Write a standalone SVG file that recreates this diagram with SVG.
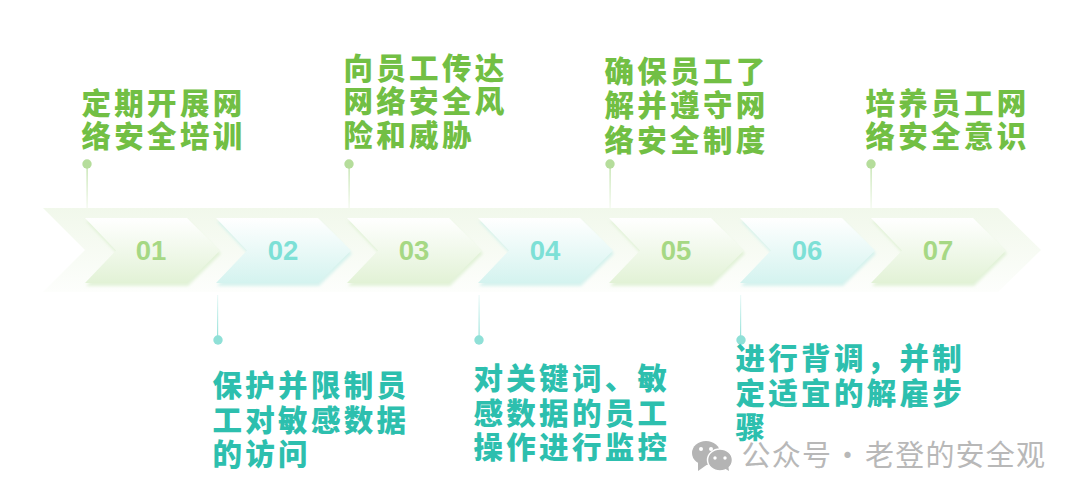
<svg xmlns="http://www.w3.org/2000/svg" width="1080" height="498" viewBox="0 0 1080 498">
<style>
.t{font-family:"Noto Sans CJK SC",sans-serif;font-weight:900;font-size:29.500px;letter-spacing:3.300px}
.g{fill:#72bf44}.b{fill:#2dbfae}
.n{font-family:"Liberation Sans",Arial,sans-serif;font-weight:700;font-size:27.500px;text-anchor:middle}
.ng{fill:#a6d884}.nb{fill:#7de0d6}
.cg{fill:url(#cg);filter:url(#sg)}.cb{fill:url(#cb);filter:url(#sb)}
.w{font-family:"Noto Sans CJK SC",sans-serif;font-size:29px;fill:#b8b8b8;letter-spacing:1.200px}
</style>
<defs>
<linearGradient id="band" x1="0" y1="0" x2="0" y2="1"><stop offset="0" stop-color="#f1f8eb"/><stop offset="1" stop-color="#fdfefc"/></linearGradient>
<linearGradient id="cg" x1="0" y1="0" x2="0" y2="1"><stop offset="0" stop-color="#fff"/><stop offset="1" stop-color="#e2f2d6"/></linearGradient>
<linearGradient id="cb" x1="0" y1="0" x2="0" y2="1"><stop offset="0" stop-color="#fff"/><stop offset="1" stop-color="#d4f3ef"/></linearGradient>
<linearGradient id="pu" x1="0" y1="0" x2="0" y2="1"><stop offset="0" stop-color="#b5dd9b"/><stop offset="1" stop-color="#f3f9ee"/></linearGradient>
<linearGradient id="pd" x1="0" y1="1" x2="0" y2="0"><stop offset="0" stop-color="#8fe0d7"/><stop offset="1" stop-color="#eefaf9"/></linearGradient>
<filter id="sg" x="-10%" y="-10%" width="120%" height="125%"><feDropShadow dx="1" dy="3" stdDeviation="1.800" flood-color="#d8eecb" flood-opacity=".7"/></filter>
<filter id="sb" x="-10%" y="-10%" width="120%" height="125%"><feDropShadow dx="1" dy="3" stdDeviation="1.800" flood-color="#c8eeea" flood-opacity=".7"/></filter>
<path id="c" d="M85 218H187L220 250.500L187 283H85L116 250.500Z"/>
</defs>
<rect width="1080" height="498" fill="#fff"/>
<polygon id="band-shape" points="43,208 998,208 1041,250 998,292 43,292 85,250" fill="url(#band)"/>
<g id="connectors">
<rect x="86.500" y="164" width="1.200" height="44" fill="url(#pu)"/>
<rect x="348.500" y="164" width="1.200" height="44" fill="url(#pu)"/>
<rect x="609.500" y="164" width="1.200" height="44" fill="url(#pu)"/>
<rect x="870.500" y="164" width="1.200" height="44" fill="url(#pu)"/>
<rect x="217" y="295" width="1.200" height="45" fill="url(#pd)"/>
<rect x="478.500" y="295" width="1.200" height="45" fill="url(#pd)"/>
<rect x="740" y="295" width="1.200" height="45" fill="url(#pd)"/>
</g>
<g id="node1"><use href="#c" class="cg"/><text class="n ng" x="151" y="260">01</text><circle cx="87" cy="164" r="4.700" fill="#b5dd9b"/>
<text class="t g"><tspan x="81.500" y="114">定期开展网</tspan><tspan x="81.500" y="147">络安全培训</tspan></text></g>
<g id="node2"><use href="#c" x="131" class="cb"/><text class="n nb" x="283" y="260">02</text><circle cx="218" cy="340" r="4.700" fill="#8fe0d7"/>
<text class="t b"><tspan x="212.500" y="396">保护并限制员</tspan><tspan x="212.500" y="431">工对敏感数据</tspan><tspan x="212.500" y="465">的访问</tspan></text></g>
<g id="node3"><use href="#c" x="262" class="cg"/><text class="n ng" x="414" y="260">03</text><circle cx="349" cy="164" r="4.700" fill="#b5dd9b"/>
<text class="t g"><tspan x="343.500" y="79">向员工传达</tspan><tspan x="343.500" y="112">网络安全风</tspan><tspan x="343.500" y="146">险和威胁</tspan></text></g>
<g id="node4"><use href="#c" x="393" class="cb"/><text class="n nb" x="545" y="260">04</text><circle cx="479" cy="340" r="4.700" fill="#8fe0d7"/>
<text class="t b"><tspan x="473.500" y="389">对关键词、敏</tspan><tspan x="473.500" y="424">感数据的员工</tspan><tspan x="473.500" y="458">操作进行监控</tspan></text></g>
<g id="node5"><use href="#c" x="524" class="cg"/><text class="n ng" x="676" y="260">05</text><circle cx="610" cy="164" r="4.700" fill="#b5dd9b"/>
<text class="t g"><tspan x="604.500" y="82">确保员工了</tspan><tspan x="604.500" y="116">解并遵守网</tspan><tspan x="604.500" y="151">络安全制度</tspan></text></g>
<g id="node6"><use href="#c" x="655" class="cb"/><text class="n nb" x="807" y="260">06</text><circle cx="741" cy="340" r="4.700" fill="#8fe0d7"/>
<text class="t b"><tspan x="735.500" y="369">进行背调，并制</tspan><tspan x="735.500" y="404">定适宜的解雇步</tspan><tspan x="735.500" y="438">骤</tspan></text></g>
<g id="node7"><use href="#c" x="786" class="cg"/><text class="n ng" x="938" y="260">07</text><circle cx="871" cy="164" r="4.700" fill="#b5dd9b"/>
<text class="t g"><tspan x="865.500" y="114">培养员工网</tspan><tspan x="865.500" y="147">络安全意识</tspan></text></g>
<g id="watermark">
<ellipse cx="706" cy="453" rx="14" ry="12" fill="#b4b4b4"/><polygon points="698,461 698,471 708,464" fill="#b4b4b4"/>
<ellipse cx="720" cy="460" rx="12.500" ry="11" fill="#b4b4b4" stroke="#fff" stroke-width="1.500"/><polygon points="724,468 729,471 728,464" fill="#b4b4b4"/>
<circle cx="701" cy="449" r="2" fill="#fff"/><circle cx="711" cy="449" r="2" fill="#fff"/><circle cx="715" cy="458" r="1.700" fill="#fff"/><circle cx="725" cy="458" r="1.700" fill="#fff"/>
<text class="w" y="466"><tspan x="741.500">公众号 </tspan><tspan x="833">· </tspan><tspan x="865">老登的安全观</tspan></text></g>
</svg>
